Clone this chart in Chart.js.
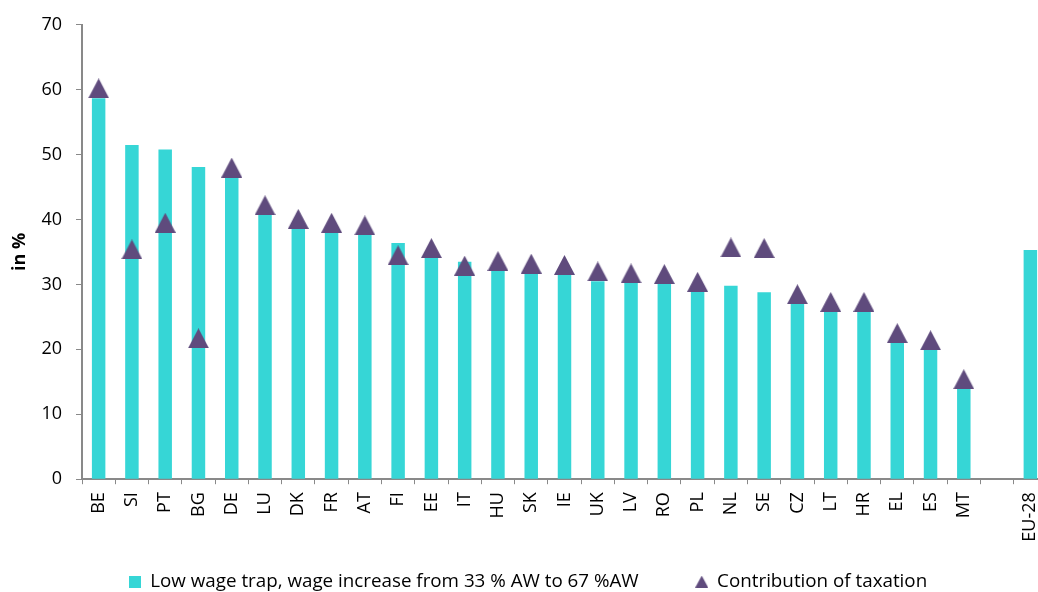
<!DOCTYPE html>
<html>
<head>
<meta charset="utf-8">
<script src="https://cdn.jsdelivr.net/npm/chart.js@4"></script>
<style>
  html, body { margin: 0; padding: 0; overflow: hidden; background: #fff; }
  #wrap { position: absolute; left: 0; top: 0; width: 1052px; height: 601px; }
</style>
</head>
<body>
<div id="wrap"><canvas id="chart"></canvas></div>
<script>
// Data
const countries = ["BE", "SI", "PT", "BG", "DE", "LU", "DK", "FR", "AT", "FI", "EE", "IT", "HU", "SK", "IE",
    "UK", "LV", "RO", "PL", "NL", "SE", "CZ", "LT", "HR", "EL", "ES", "MT", "", "EU-28"];
const lowWageTrap = [58.7, 51.5, 50.8, 48.1, 46.5, 40.8, 38.7, 38.2, 37.6, 36.4, 34.2, 33.5, 32.1, 31.7, 31.5,
    30.5, 30.3, 30.2, 28.9, 29.8, 28.8, 27.0, 25.8, 25.8, 21.0, 19.9, 13.9, null, 35.3];
const taxation = [60.2, 35.4, 39.5, 21.7, 48.0, 42.2, 40.1, 39.5, 39.1, 34.5, 35.6, 32.9, 33.6, 33.2, 33.0,
    32.0, 31.7, 31.6, 30.4, 35.7, 35.6, 28.5, 27.3, 27.3, 22.5, 21.4, 15.4, null, null];
const yTicks = [0, 10, 20, 30, 40, 50, 60, 70];
const seriesNames = ["Low wage trap, wage increase from 33 % AW to 67 %AW", "Contribution of taxation"];

const CYAN = "#36D6D6";
const PURPLE = "#5F4B7D";
const AXIS = "#898989";
const FONT = "'Open Sans', 'Liberation Sans', sans-serif";

// Marker images (centred on their box, like the spreadsheet markers)
function makeTriangle(w, h, color) {
    const c = document.createElement("canvas");
    c.width = w; c.height = h;
    const g = c.getContext("2d");
    g.fillStyle = color;
    g.beginPath();
    g.moveTo(w / 2, 0);
    g.lineTo(w, h);
    g.lineTo(0, h);
    g.closePath();
    g.fill();
    return c;
}
function makeSquare(s, color) {
    const c = document.createElement("canvas");
    c.width = s; c.height = s;
    const g = c.getContext("2d");
    g.fillStyle = color;
    g.fillRect(0, 0, s, s);
    return c;
}
const triMarker = makeTriangle(21, 20, PURPLE);
const legendMarkers = [makeSquare(12, CYAN), makeTriangle(13, 12, PURPLE)];

// x labels hang into the empty top part of the legend box, so don't clip them to the axis box
const labelRoom = {
    id: "labelRoom",
    afterLayout(chart) {
        chart.scales.x.bottom = chart.height;
    }
};

const ctx = document.getElementById("chart").getContext("2d");
new Chart(ctx, {
    data: {
        labels: countries,
        datasets: [{
            type: "bar",
            label: seriesNames[0],
            data: lowWageTrap,
            backgroundColor: CYAN,
            categoryPercentage: 1,
            barPercentage: 0.405,
            order: 2
        }, {
            type: "line",
            label: seriesNames[1],
            data: taxation,
            showLine: false,
            pointStyle: triMarker,
            pointBackgroundColor: PURPLE,
            pointBorderColor: PURPLE,
            order: 1
        }]
    },
    plugins: [labelRoom],
    options: {
        responsive: true,
        maintainAspectRatio: false,
        animation: false,
        layout: { padding: { left: 4, right: 0, top: 15, bottom: 0 } },
        plugins: {
            tooltip: { enabled: false },
            legend: {
                position: "bottom",
                labels: {
                    usePointStyle: true,
                    boxWidth: 12,
                    boxHeight: 12,
                    color: "#000",
                    padding: 57,
                    font: { family: FONT, size: 18.8 },
                    generateLabels: (chart) => {
                        const items = Chart.defaults.plugins.legend.labels.generateLabels(chart);
                        items.sort((a, b) => a.datasetIndex - b.datasetIndex);
                        items.forEach((it) => { it.pointStyle = legendMarkers[it.datasetIndex]; });
                        return items;
                    }
                }
            }
        },
        scales: {
            x: {
                grid: { display: true, drawOnChartArea: false, color: AXIS, tickLength: 5 },
                border: { display: true, color: AXIS, width: 2 },
                ticks: {
                    color: "#000",
                    font: { family: FONT, size: 18 },
                    minRotation: 90,
                    maxRotation: 90,
                    autoSkip: false,
                    padding: 8
                },
                afterFit: (axis) => {
                    axis.height = 36;
                    axis.paddingLeft = 0;
                    axis.paddingRight = 0;
                }
            },
            y: {
                min: 0,
                max: 70,
                afterBuildTicks: (axis) => { axis.ticks = yTicks.map((v) => ({ value: v })); },
                grid: { display: true, drawOnChartArea: false, color: AXIS, tickLength: 6 },
                border: { display: true, color: AXIS, width: 2 },
                ticks: {
                    color: "#000",
                    font: { family: FONT, size: 18 },
                    padding: 14
                },
                title: {
                    display: true,
                    text: "in %",
                    color: "#000",
                    font: { family: FONT, size: 18, weight: "bold" },
                    padding: { top: 5, bottom: 10 }
                },
                afterFit: (axis) => { axis.width = 78; }
            },
            spacer: {
                type: "linear",
                position: "right",
                display: true,
                grid: { display: false },
                border: { display: false },
                ticks: { display: false },
                afterFit: (axis) => { axis.width = 5; }
            }
        }
    }
});
</script>
</body>
</html>
